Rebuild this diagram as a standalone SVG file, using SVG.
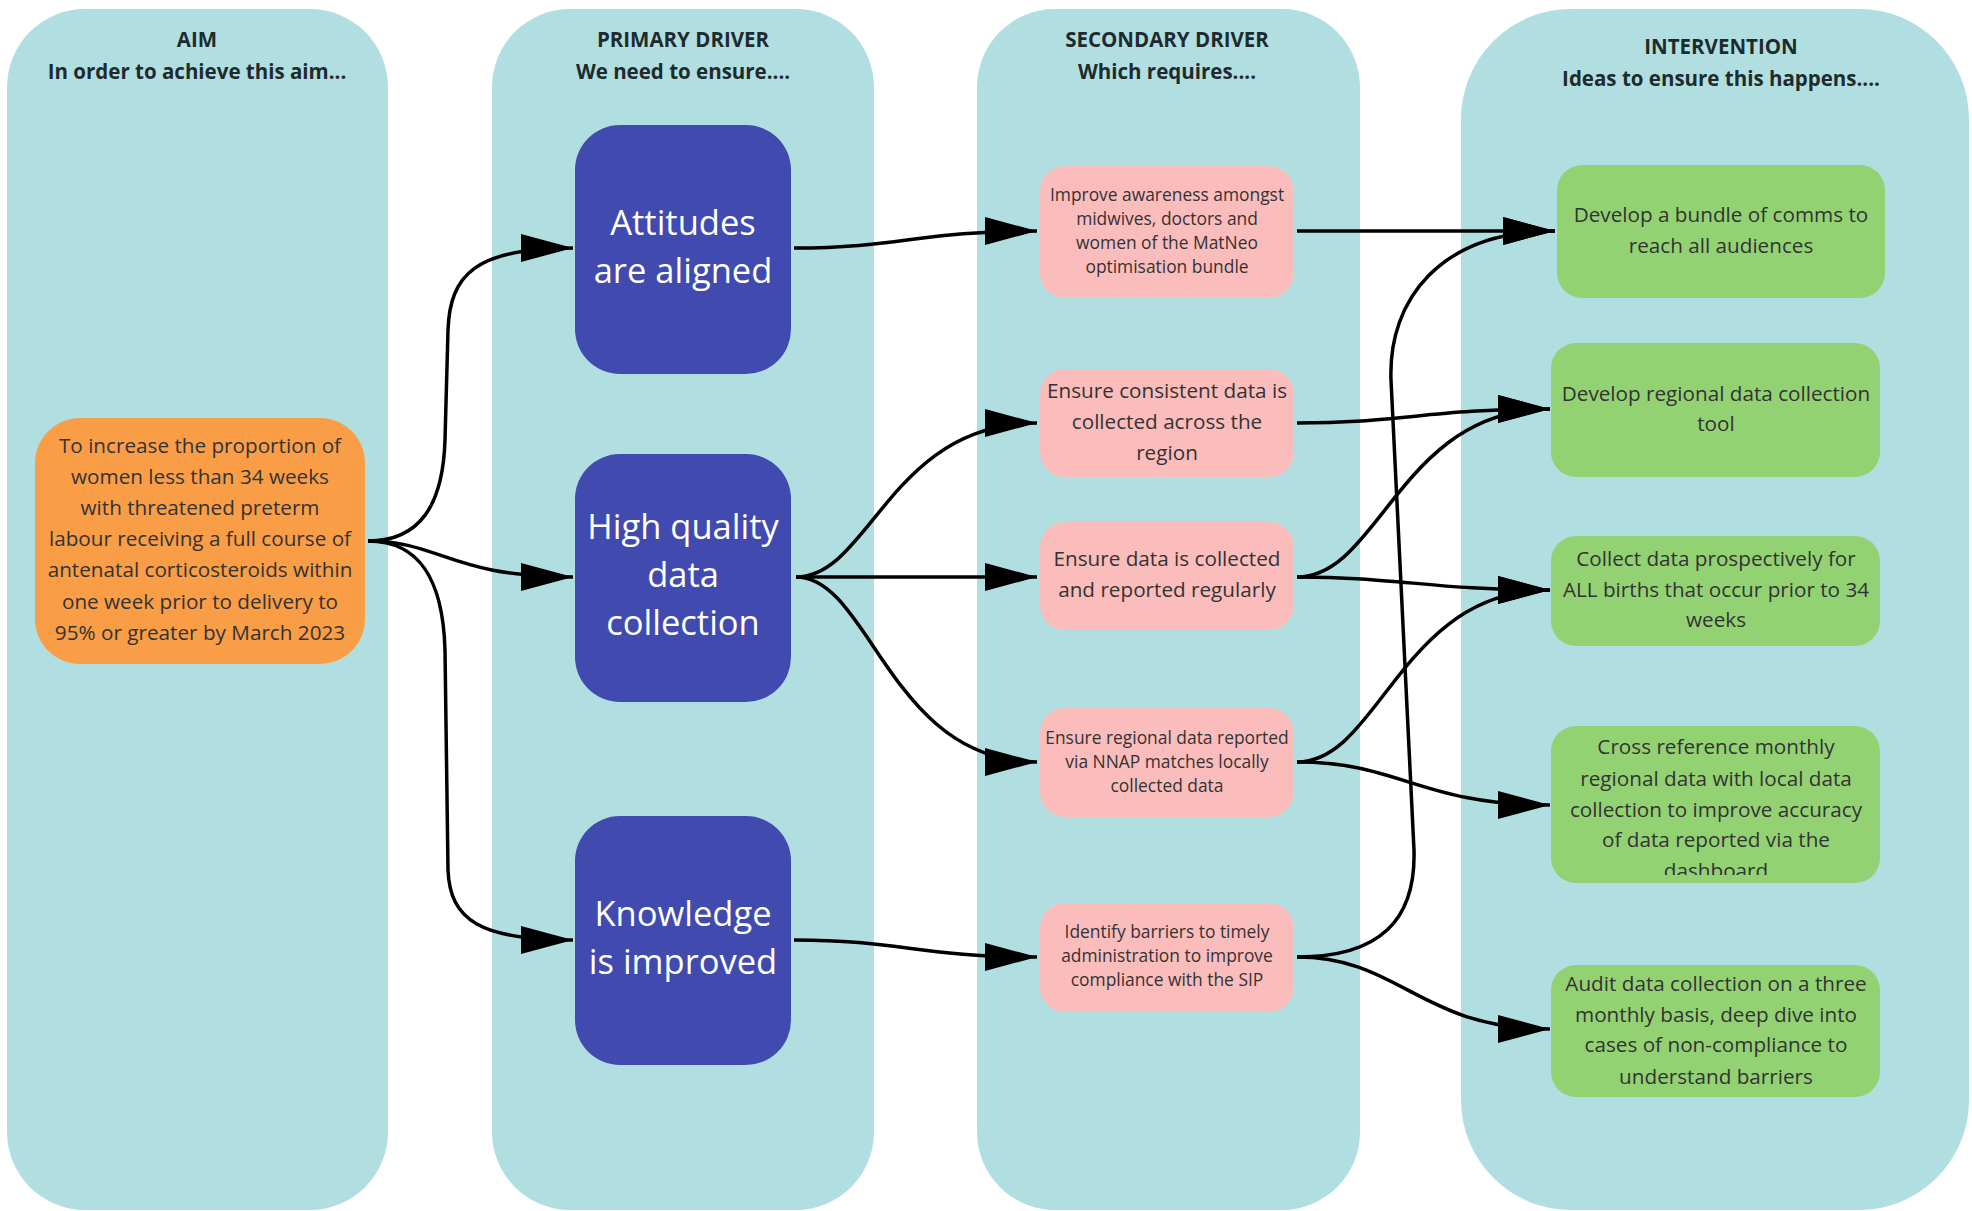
<svg xmlns="http://www.w3.org/2000/svg" width="1972" height="1211" viewBox="0 0 1972 1211">
<style>
.col{fill:#b1dfe1}
.hdr{font-family:"Open Sans","Liberation Sans",sans-serif;font-weight:bold;font-size:20.5px;fill:#1e2b2e;text-anchor:middle}
.aim{fill:#f99d47}
.pri{fill:#414aaf}
.sec{fill:#fbbcbc}
.int{fill:#92d273}
.t20{font-family:"Open Sans","Liberation Sans",sans-serif;font-size:20.7px;fill:#333;text-anchor:middle}
.t17{font-family:"Open Sans","Liberation Sans",sans-serif;font-size:17.4px;fill:#333;text-anchor:middle}
.tp{font-family:"Open Sans","Liberation Sans",sans-serif;font-size:34.5px;fill:#ffffff;text-anchor:middle}
.con{fill:none;stroke:#000;stroke-width:3.5;marker-end:url(#ah)}
</style>
<defs>
<marker id="ah" markerUnits="userSpaceOnUse" markerWidth="52" markerHeight="28" refX="52" refY="14" orient="auto" overflow="visible">
<path d="M0,0 L52,14 L0,28 Z" fill="#000"/>
</marker>
<clipPath id="clipI4"><rect x="1551" y="726" width="329" height="149"/></clipPath>
</defs>
<rect width="1972" height="1211" fill="#ffffff"/>
<g id="columns">
<rect class="col" x="7" y="9" width="381" height="1201" rx="78" ry="78"/>
<rect class="col" x="492" y="9" width="382" height="1201" rx="78" ry="78"/>
<rect class="col" x="977" y="9" width="383" height="1201" rx="78" ry="78"/>
<rect class="col" x="1461" y="9" width="508" height="1201" rx="110" ry="110"/>
</g>
<g id="headers">
<text class="hdr" x="197" y="47">AIM</text>
<text class="hdr" x="197" y="79">In order to achieve this aim...</text>
<text class="hdr" x="683" y="47">PRIMARY DRIVER</text>
<text class="hdr" x="683" y="79">We need to ensure....</text>
<text class="hdr" x="1167" y="47">SECONDARY DRIVER</text>
<text class="hdr" x="1167" y="79">Which requires....</text>
<text class="hdr" x="1721" y="54">INTERVENTION</text>
<text class="hdr" x="1721" y="86">Ideas to ensure this happens....</text>
</g>
<g id="connectors">
<path class="con" d="M368,541 C420,541 443,505 445,440 L448,330 C450,275 475,248 573,248"/>
<path class="con" d="M368,541 C440,541 450,577 573,577"/>
<path class="con" d="M368,541 C420,541 443,580 445,650 L448,870 C450,920 480,940 573,940"/>
<path class="con" d="M794,248 C900,248 920,231 1037,231"/>
<path class="con" d="M796,577 C870,577 890,423 1037,423"/>
<path class="con" d="M796,577 L1037,577"/>
<path class="con" d="M796,577 C870,577 890,762 1037,762"/>
<path class="con" d="M794,940 C900,940 920,957 1037,957"/>
<path class="con" d="M1297,231 L1555,231"/>
<path class="con" d="M1297,423 C1400,423 1430,409 1550,409"/>
<path class="con" d="M1297,577 C1380,577 1400,409 1550,409"/>
<path class="con" d="M1297,577 C1400,577 1430,590 1550,590"/>
<path class="con" d="M1297,762 C1380,762 1400,590 1550,590"/>
<path class="con" d="M1297,762 C1400,762 1420,805 1550,805"/>
<path class="con" d="M1297,957 C1380,957 1416,920 1414,850 L1391,380 C1388,300 1440,231 1555,231"/>
<path class="con" d="M1297,957 C1400,957 1420,1029 1550,1029"/>
</g>
<g id="aim">
<rect class="aim" x="35" y="418" width="330" height="246" rx="45" ry="45"/>
<text class="t20"><tspan x="200" y="453">To increase the proportion of</tspan><tspan x="200" y="484">women less than 34 weeks</tspan><tspan x="200" y="515">with threatened preterm</tspan><tspan x="200" y="546">labour receiving a full course of</tspan><tspan x="200" y="577">antenatal corticosteroids within</tspan><tspan x="200" y="609">one week prior to delivery to</tspan><tspan x="200" y="640">95% or greater by March 2023</tspan></text>
</g>
<g id="primary-attitudes">
<rect class="pri" x="575" y="125" width="216" height="249" rx="45" ry="45"/>
<text class="tp"><tspan x="683" y="235">Attitudes</tspan><tspan x="683" y="283">are aligned</tspan></text>
</g>
<g id="primary-data">
<rect class="pri" x="575" y="454" width="216" height="248" rx="45" ry="45"/>
<text class="tp"><tspan x="683" y="539">High quality</tspan><tspan x="683" y="587">data</tspan><tspan x="683" y="635">collection</tspan></text>
</g>
<g id="primary-knowledge">
<rect class="pri" x="575" y="816" width="216" height="249" rx="45" ry="45"/>
<text class="tp"><tspan x="683" y="926">Knowledge</tspan><tspan x="683" y="974">is improved</tspan></text>
</g>
<g id="secondary-awareness">
<rect class="sec" x="1040" y="166" width="254" height="132" rx="25" ry="25"/>
<text class="t17"><tspan x="1167" y="201">Improve awareness amongst</tspan><tspan x="1167" y="225">midwives, doctors and</tspan><tspan x="1167" y="249">women of the MatNeo</tspan><tspan x="1167" y="273">optimisation bundle</tspan></text>
</g>
<g id="secondary-consistent">
<rect class="sec" x="1040" y="369" width="254" height="108" rx="25" ry="25"/>
<text class="t20"><tspan x="1167" y="398">Ensure consistent data is</tspan><tspan x="1167" y="429">collected across the</tspan><tspan x="1167" y="460">region</tspan></text>
</g>
<g id="secondary-regular">
<rect class="sec" x="1040" y="522" width="254" height="108" rx="25" ry="25"/>
<text class="t20"><tspan x="1167" y="566">Ensure data is collected</tspan><tspan x="1167" y="597">and reported regularly</tspan></text>
</g>
<g id="secondary-nnap">
<rect class="sec" x="1040" y="708" width="254" height="109" rx="25" ry="25"/>
<text class="t17"><tspan x="1167" y="744">Ensure regional data reported</tspan><tspan x="1167" y="768">via NNAP matches locally</tspan><tspan x="1167" y="792">collected data</tspan></text>
</g>
<g id="secondary-barriers">
<rect class="sec" x="1040" y="903" width="254" height="109" rx="25" ry="25"/>
<text class="t17"><tspan x="1167" y="938">Identify barriers to timely</tspan><tspan x="1167" y="962">administration to improve</tspan><tspan x="1167" y="986">compliance with the SIP</tspan></text>
</g>
<g id="intervention-comms">
<rect class="int" x="1557" y="165" width="328" height="133" rx="25" ry="25"/>
<text class="t20"><tspan x="1721" y="222">Develop a bundle of comms to</tspan><tspan x="1721" y="253">reach all audiences</tspan></text>
</g>
<g id="intervention-tool">
<rect class="int" x="1551" y="343" width="329" height="134" rx="25" ry="25"/>
<text class="t20"><tspan x="1716" y="401">Develop regional data collection</tspan><tspan x="1716" y="431">tool</tspan></text>
</g>
<g id="intervention-prospective">
<rect class="int" x="1551" y="536" width="329" height="110" rx="25" ry="25"/>
<text class="t20"><tspan x="1716" y="566">Collect data prospectively for</tspan><tspan x="1716" y="597">ALL births that occur prior to 34</tspan><tspan x="1716" y="627">weeks</tspan></text>
</g>
<g id="intervention-crossref">
<rect class="int" x="1551" y="726" width="329" height="157" rx="25" ry="25"/>
<text class="t20" clip-path="url(#clipI4)"><tspan x="1716" y="754">Cross reference monthly</tspan><tspan x="1716" y="786">regional data with local data</tspan><tspan x="1716" y="817">collection to improve accuracy</tspan><tspan x="1716" y="847">of data reported via the</tspan><tspan x="1716" y="878">dashboard</tspan></text>
</g>
<g id="intervention-audit">
<rect class="int" x="1551" y="965" width="329" height="132" rx="25" ry="25"/>
<text class="t20"><tspan x="1716" y="991">Audit data collection on a three</tspan><tspan x="1716" y="1022">monthly basis, deep dive into</tspan><tspan x="1716" y="1052">cases of non-compliance to</tspan><tspan x="1716" y="1084">understand barriers</tspan></text>
</g>
</svg>
